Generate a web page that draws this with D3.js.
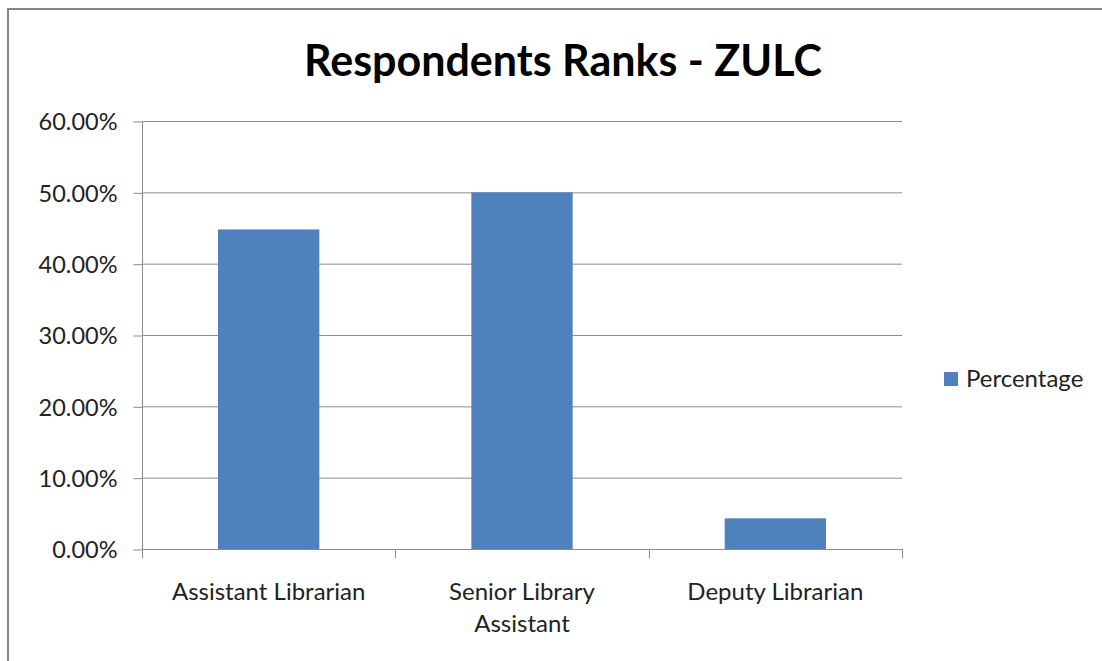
<!DOCTYPE html>
<html>
<head>
<meta charset="utf-8">
<script src="https://cdn.jsdelivr.net/npm/d3@7"></script>
<style>
  body { margin: 0; background: #fff; }
  text { font-family: Lato, "Open Sans", sans-serif; fill: #222; }
</style>
</head>
<body>
<div id="chart"></div>
<script>
// chart data
const categories = ['Assistant Librarian', 'Senior Library Assistant', 'Deputy Librarian'];
const categoryLines = [['Assistant Librarian'], ['Senior Library', 'Assistant'], ['Deputy Librarian']];
const percentages = [0.448, 0.50, 0.043];
const yTicks = [0, 0.1, 0.2, 0.3, 0.4, 0.5, 0.6];
const seriesName = 'Percentage';
const title = 'Respondents Ranks - ZULC';

const width = 1102, height = 661;
const margin = {left: 142, right: 200, top: 121, bottom: 112};
const barColor = '#4f81bd',
  gridColor = '#8c8c8c';

const svg = d3.select('#chart').append('svg')
  .attr('width', width)
  .attr('height', height);

// outer frame
svg.append('rect')
  .attr('x', 8).attr('y', 9)
  .attr('width', width + 20).attr('height', height + 20)
  .attr('fill', '#fff')
  .attr('stroke', '#868686')
  .attr('stroke-width', 2);

const x = d3.scaleBand()
  .domain(categories)
  .range([margin.left, width - margin.right])
  .paddingInner(0.6)
  .paddingOuter(0.3);

const y = d3.scaleLinear()
  .domain([0, 0.6])
  .range([height - margin.bottom, margin.top]);

// gridlines
svg.append('g')
  .selectAll('line')
  .data(yTicks.slice(1))
  .enter().append('line')
  .attr('x1', margin.left).attr('x2', width - margin.right)
  .attr('y1', d => y(d) + 0.5).attr('y2', d => y(d) + 0.5)
  .attr('stroke', gridColor)
  .attr('stroke-width', 1);

// bars
svg.append('g')
  .selectAll('rect')
  .data(percentages)
  .enter().append('rect')
  .attr('x', (d, i) => x(categories[i]))
  .attr('y', d => y(d))
  .attr('width', x.bandwidth())
  .attr('height', d => y(0) - y(d))
  .attr('fill', barColor);

// y axis
const yAxis = d3.axisLeft(y)
  .tickValues(yTicks)
  .tickSize(9)
  .tickPadding(16)
  .tickFormat(d3.format('.2%'));

const yg = svg.append('g')
  .attr('transform', 'translate(' + (margin.left + 0.5) + ',0.5)')
  .call(yAxis);
yg.selectAll('line, path').attr('stroke', gridColor);
yg.select('.domain').attr('d', 'M0,' + y(0.6) + 'V' + y(0));
yg.selectAll('text')
  .attr('font-size', 23.5)
  .attr('font-family', 'Lato, sans-serif')
  .attr('fill', '#222')
  .attr('dy', '0.35em');

// x axis: ticks at category boundaries
const bounds = d3.range(categories.length + 1).map(i => margin.left + i * (width - margin.left - margin.right) / categories.length);
const xg = svg.append('g');
xg.append('line')
  .attr('x1', margin.left).attr('x2', width - margin.right)
  .attr('y1', y(0) + 0.5).attr('y2', y(0) + 0.5)
  .attr('stroke', gridColor);
xg.selectAll('.tick')
  .data(bounds)
  .enter().append('line')
  .attr('class', 'tick')
  .attr('x1', d => Math.round(d) + 0.5).attr('x2', d => Math.round(d) + 0.5)
  .attr('y1', y(0)).attr('y2', y(0) + 9)
  .attr('stroke', gridColor);

xg.selectAll('.label')
  .data(categoryLines)
  .enter().append('text')
  .attr('class', 'label')
  .attr('text-anchor', 'middle')
  .attr('font-size', 24)
  .attr('x', (d, i) => x(categories[i]) + x.bandwidth() / 2)
  .attr('y', y(0) + 51)
  .each(function(lines) {
    const t = d3.select(this);
    lines.forEach((l, j) => {
      t.append('tspan')
        .attr('x', t.attr('x'))
        .attr('dy', j === 0 ? 0 : 32)
        .text(l);
    });
  });

// title
svg.append('text')
  .attr('x', 563)
  .attr('y', 76)
  .attr('text-anchor', 'middle')
  .attr('font-size', 43)
  .attr('font-weight', 'bold')
  .style('fill', '#000')
  .text(title);

// legend
const legend = svg.append('g')
  .attr('transform', 'translate(944,372)');
legend.append('rect')
  .attr('width', 14).attr('height', 14)
  .attr('fill', barColor);
legend.append('text')
  .attr('x', 22).attr('y', 15)
  .attr('font-size', 24)
  .text(seriesName);
</script>
</body>
</html>
